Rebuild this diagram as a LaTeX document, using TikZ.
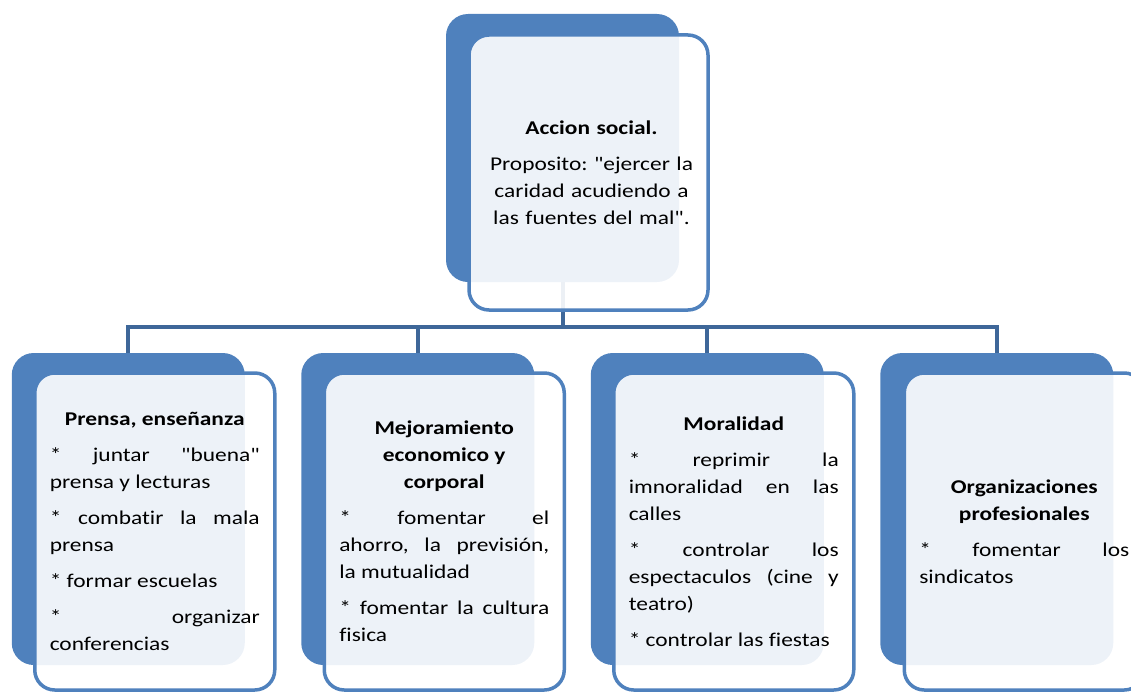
\documentclass[tikz,border=0pt]{standalone}
\usepackage{fontspec}
\setmainfont{Carlito}[FakeStretch=1.2,Ligatures={TeXOff,CommonOff}]
\usetikzlibrary{positioning}
\definecolor{cardblue}{RGB}{79,129,189}
\definecolor{linkblue}{RGB}{62,103,153}
\frenchspacing

\begin{document}
\begin{tikzpicture}[x=1pt,y=1pt,
        level distance=361pt,
        sibling distance=289.5pt,
        back/.style={rectangle,rounded corners=22pt,fill=cardblue,
            minimum width=233pt,minimum height=312pt,inner sep=0pt,outer sep=0pt},
        front/.style={rectangle,rounded corners=20pt,draw=cardblue,line width=3.5pt,
            fill=white,fill opacity=0.9,minimum width=240pt,minimum height=317pt,
            inner sep=0pt,outer sep=0pt},
        card text/.style={text width=210pt,inner sep=0pt,align=justify,
            font=\fontsize{19.5}{27}\selectfont,
            execute at begin node={\setlength{\parskip}{9pt}\setlength{\parindent}{0pt}%
                \tolerance=10000 \hyphenpenalty=10000 \hbadness=10000 }},
        edge from parent/.style={draw=linkblue,line width=4pt},
        edge from parent path={(\tikzparentnode.south) -- +(0,-45) -| (\tikzchildnode.north)}]
      \useasboundingbox (0,0) rectangle (1131,-693);

      \node[back,minimum height=268pt] (accion) at (562.5,-148) {}
      child {node[back] (prensa) {}}
      child {node[back] (mejora) {}}
      child {node[back] (moral) {}}
      child {node[back] (orga) {}};

      \node[front,minimum width=239pt,minimum height=275pt,below right=21pt and 23pt of accion.north west] (accionf) {};
      \node[front,below right=20pt and 23pt of prensa.north west] (prensaf) {};
      \node[front,below right=20pt and 23pt of mejora.north west] (mejoraf) {};
      \node[front,below right=20pt and 23pt of moral.north west] (moralf) {};
      \node[front,below right=20pt and 24pt of orga.north west] (orgaf) {};

      \node[card text,align=center,xshift=3pt] (acciont) at (accionf.center) {
          {\bfseries Accion social.\par}
          Proposito: "ejercer la\\ caridad acudiendo a\\ las fuentes del mal".};
      \node[card text] (prensat) at (prensaf.center) {
          {\centering\bfseries Prensa, enseñanza\par}
          * juntar "buena"\linebreak prensa y lecturas\par
          * combatir la mala\linebreak prensa\par
          * formar escuelas\par
          * organizar\linebreak conferencias};
      \node[card text] (mejorat) at (mejoraf.center) {
          {\centering\bfseries Mejoramiento\\ economico y\\ corporal\par}
          * fomentar el\linebreak ahorro, la previsión,\linebreak la mutualidad\par
          * fomentar la cultura\linebreak fisica};
      \node[card text] (moralt) at (moralf.center) {
          {\centering\bfseries Moralidad\par}
          * reprimir la\linebreak imnoralidad en las\linebreak calles\par
          * controlar los\linebreak espectaculos (cine y\linebreak teatro)\par
          * controlar las fiestas};
      \node[card text] (orgat) at (orgaf.center) {
          {\centering\bfseries Organizaciones\\ profesionales\par}
          * fomentar los\linebreak sindicatos};

    \end{tikzpicture}
\end{document}
